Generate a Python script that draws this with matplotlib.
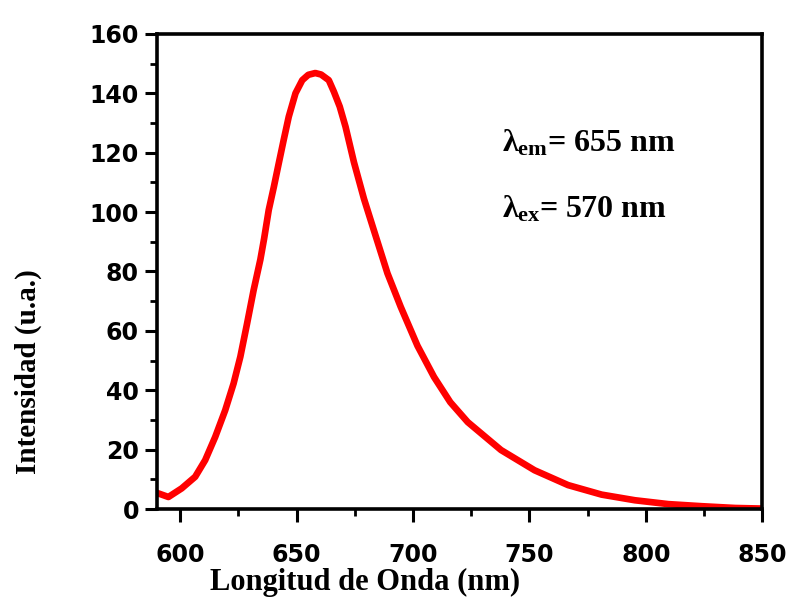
import matplotlib
matplotlib.use("Agg")
import matplotlib.pyplot as plt
from matplotlib.ticker import MultipleLocator

# emission spectrum
wavelength = [590.6, 594.9, 600.6, 606.4, 610.7, 615, 619.3, 622.9, 625.8, 628.7, 631.5,
              634.4, 636, 638, 640.2, 642.3, 644.4, 646.6, 649.5, 652.4, 655, 658,
              660.5, 663.8, 666, 668.5, 671, 674.6, 678.9, 684, 689, 694.7, 701.9,
              709, 716, 723.5, 737.8, 752.2, 766.6, 781, 795.3, 809.7, 824, 838.4, 850]
intensity = [5.3, 4.1, 7.0, 10.9, 16.5, 24.3, 33.3, 42.3, 51.3, 62.5, 73.7,
             84.0, 91.0, 100.7, 108.5, 116.4, 124.2, 132.1, 140.0, 144.4, 146.2, 146.8,
             146.3, 144.4, 140.5, 135.5, 128.7, 116.8, 104.5, 91.8, 79.4, 68.1, 55.0,
             44.5, 36.0, 29.3, 19.9, 13.1, 8.1, 4.9, 3.0, 1.7, 1.0, 0.4, 0.2]

x_ticks = [600, 650, 700, 750, 800, 850]
y_ticks = [0, 20, 40, 60, 80, 100, 120, 140, 160]

plt.rcParams['mathtext.fontset'] = 'custom'
plt.rcParams['mathtext.rm'] = 'Liberation Serif:bold'
plt.rcParams['mathtext.it'] = 'Liberation Serif:bold'
plt.rcParams['mathtext.bf'] = 'Liberation Serif:bold'

fig = plt.figure(figsize=(7.87, 6.04), dpi=100)
ax = fig.add_axes([0.1995, 0.157, 0.769, 0.787])

ax.plot(wavelength, intensity, color='red', lw=4.8, solid_joinstyle='round')

ax.set_xlim(590, 850)
ax.set_ylim(0, 160)
ax.set_xticks(x_ticks)
ax.set_yticks(y_ticks)
ax.xaxis.set_minor_locator(MultipleLocator(25))
ax.yaxis.set_minor_locator(MultipleLocator(10))

for s in ax.spines.values():
    s.set_linewidth(2.6)
ax.tick_params(which='major', direction='out', length=9, width=2.2, pad=4)
ax.tick_params(which='minor', direction='out', length=5, width=2.0)
ax.tick_params(axis='x', which='major', pad=15)
for lab in ax.get_xticklabels() + ax.get_yticklabels():
    lab.set_fontfamily('DejaVu Sans')
    lab.set_fontweight('heavy')
    lab.set_fontsize(17)

ax.set_xlabel("Longitud de Onda (nm)", family='Liberation Serif', fontweight='bold', fontsize=22)
ax.set_ylabel("Intensidad (u.a.)", family='Liberation Serif', fontweight='bold', fontsize=21)
ax.xaxis.set_label_coords(0.344, -0.124)
ax.yaxis.set_label_coords(-0.19, 0.29)

ax.text(738, 123, r"$\lambda_{\rm em}$= 655 nm", family='Liberation Serif', fontweight='bold',
        fontsize=23, va='center', ha='left')
ax.text(738, 101, r"$\lambda_{\rm ex}$= 570 nm", family='Liberation Serif', fontweight='bold',
        fontsize=23, va='center', ha='left')

fig.savefig("out.png", dpi=100)
